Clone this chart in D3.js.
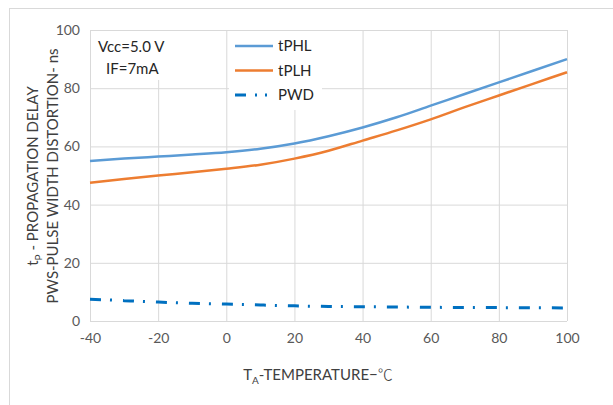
<!DOCTYPE html>
<html>
<head>
<meta charset="utf-8">
<script src="https://cdn.jsdelivr.net/npm/d3@7"></script>
<style>
  body { margin: 0; background: #fff; }
  svg { font-family: Lato, "Noto Sans", sans-serif; }
</style>
</head>
<body>
<svg id="chart" width="613" height="405"></svg>
<script>
const temps = [-40, -30, -20, -10, 0, 10, 20, 30, 40, 50, 60, 70, 80, 90, 100];
const tPHL = [55, 55.8, 56.5, 57.2, 58, 59.2, 61, 63.5, 66.5, 70, 74, 78, 82, 86, 90];
const tPLH = [47.5, 48.8, 50, 51.1, 52.3, 53.7, 55.8, 58.5, 62, 65.5, 69.3, 73.5, 77.5, 81.5, 85.5];
const PWD = [7.5, 7, 6.5, 6.1, 5.8, 5.5, 5.2, 5.0, 4.9, 4.8, 4.7, 4.65, 4.6, 4.55, 4.5];
const xTicks = [-40, -20, 0, 20, 40, 60, 80, 100];
const yTicks = [0, 20, 40, 60, 80, 100];

const svg = d3.select("#chart");

// outer chart border
svg.append("rect")
  .attr("x", 9.5).attr("y", 8.5)
  .attr("width", 620).attr("height", 420)
  .attr("fill", "none").attr("stroke", "#d9d9d9");

const plotLeft = 90, plotRight = 567, plotTop = 30, plotBottom = 321;

const x = d3.scaleLinear().domain([-40, 100]).range([plotLeft, plotRight]);
const y = d3.scaleLinear().domain([0, 100]).range([plotBottom, plotTop]);

// gridlines
svg.append("g").selectAll("line")
  .data(xTicks).enter().append("line")
  .attr("x1", d => x(d) + 0.5).attr("x2", d => x(d) + 0.5)
  .attr("y1", plotTop).attr("y2", plotBottom)
  .attr("stroke", "#d9d9d9");
svg.append("g").selectAll("line")
  .data(yTicks).enter().append("line")
  .attr("x1", plotLeft).attr("x2", plotRight)
  .attr("y1", d => y(d) + 0.5).attr("y2", d => y(d) + 0.5)
  .attr("stroke", "#d9d9d9");

// axes (labels only), plain hyphen for negatives like the original
const xAxis = svg.append("g")
  .attr("transform", `translate(0,${plotBottom})`)
  .call(d3.axisBottom(x).tickValues(xTicks).tickFormat(d => String(d)).tickSize(0).tickPadding(12));
const yAxis = svg.append("g")
  .attr("transform", `translate(${plotLeft},0)`)
  .call(d3.axisLeft(y).tickValues(yTicks).tickFormat(d => String(d)).tickSize(0).tickPadding(10));
[xAxis, yAxis].forEach(a => {
  a.select(".domain").remove();
  a.selectAll("text").attr("fill", "#595959").style("font-size", "14px")
    .style("font-family", "Lato, sans-serif");
});

// white boxes behind annotation and legend
svg.append("rect").attr("x", 91).attr("y", 31).attr("width", 70).attr("height", 49).attr("fill", "#fff");
svg.append("rect").attr("x", 229).attr("y", 31).attr("width", 93).attr("height", 79).attr("fill", "#fff");

// lines
const series = [
  { name: "tPHL", values: tPHL, color: "#5b9bd5", dash: null, width: 2.5 },
  { name: "tPLH", values: tPLH, color: "#ed7d31", dash: null, width: 2.5 },
  { name: "PWD", values: PWD, color: "#0070c0", dash: "11,9,2,11", width: 3 }
];

const line = d3.line()
  .x((d, i) => x(temps[i]))
  .y(d => y(d))
  .curve(d3.curveMonotoneX);

series.forEach(s => {
  svg.append("path")
    .attr("d", line(s.values))
    .attr("fill", "none")
    .attr("stroke", s.color)
    .attr("stroke-width", s.width)
    .attr("stroke-dasharray", s.dash);
});

// legend
const legend = svg.append("g");
series.forEach((s, i) => {
  const ly = 46 + i * 24.5;
  legend.append("line")
    .attr("x1", 235).attr("x2", 273)
    .attr("y1", ly).attr("y2", ly)
    .attr("stroke", s.color)
    .attr("stroke-width", s.width)
    .attr("stroke-dasharray", s.name === "PWD" ? "11,9,2,8,2,10" : null);
  legend.append("text")
    .attr("x", 278).attr("y", ly + 5)
    .attr("fill", "#262626").style("font-size", "15px")
    .text(s.name);
});

// conditions
svg.append("text").attr("x", 98).attr("y", 52)
  .attr("fill", "#262626").style("font-size", "15px").text("Vcc=5.0 V");
svg.append("text").attr("x", 106).attr("y", 74)
  .attr("fill", "#262626").style("font-size", "15px").text("IF=7mA");

// axis titles
const yTitle = svg.append("text")
  .attr("transform", "translate(38,176) rotate(-90)")
  .attr("text-anchor", "middle")
  .attr("fill", "#404040").style("font-size", "15px");
yTitle.append("tspan").text("t");
yTitle.append("tspan").attr("dy", 4).style("font-size", "10px").text("P");
yTitle.append("tspan").attr("dy", -4).text(" - PROPAGATION DELAY");

svg.append("text")
  .attr("transform", "translate(58,176) rotate(-90)")
  .attr("text-anchor", "middle")
  .attr("fill", "#404040").style("font-size", "15px")
  .text("PWS-PULSE WIDTH DISTORTION- ns");

const xTitle = svg.append("text")
  .attr("x", 318).attr("y", 380)
  .attr("text-anchor", "middle")
  .attr("fill", "#404040").style("font-size", "15px");
xTitle.append("tspan").text("T");
xTitle.append("tspan").attr("dy", 4).style("font-size", "10px").text("A");
xTitle.append("tspan").attr("dy", -4).text("-TEMPERATURE−");
xTitle.append("tspan").style("font-family", "'Noto Sans CJK SC'").style("font-weight", 300).text("℃");
</script>
</body>
</html>
